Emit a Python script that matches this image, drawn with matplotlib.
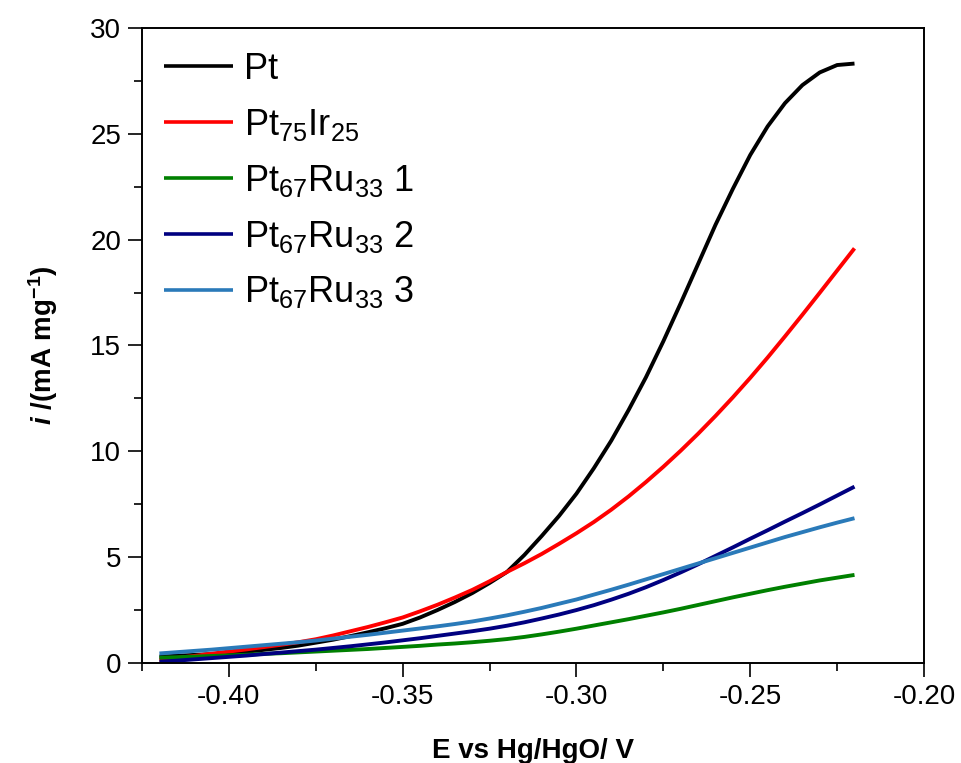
import matplotlib
matplotlib.use("Agg")
import matplotlib.pyplot as plt
from matplotlib.ticker import MultipleLocator, FormatStrFormatter

plt.rcParams['font.family'] = ['Liberation Sans', 'DejaVu Sans']
plt.rcParams['mathtext.fontset'] = 'custom'
plt.rcParams['mathtext.rm'] = 'Liberation Sans'
plt.rcParams['mathtext.it'] = 'Liberation Sans:italic:bold'
plt.rcParams['mathtext.bf'] = 'Liberation Sans:bold'
plt.rcParams['axes.unicode_minus'] = False

# Potential (V vs Hg/HgO)
potential = [-0.420, -0.415, -0.410, -0.405, -0.400, -0.395, -0.390, -0.385, -0.380,
             -0.375, -0.370, -0.365, -0.360, -0.355, -0.350, -0.345, -0.340, -0.335,
             -0.330, -0.325, -0.320, -0.315, -0.310, -0.305, -0.300, -0.295, -0.290,
             -0.285, -0.280, -0.275, -0.270, -0.265, -0.260, -0.255, -0.250, -0.245,
             -0.240, -0.235, -0.230, -0.225, -0.220]

# Mass activity (mA mg^-1)
pt = [0.30, 0.34, 0.38, 0.42, 0.46, 0.53, 0.62, 0.71, 0.82,
      0.96, 1.10, 1.27, 1.45, 1.64, 1.85, 2.15, 2.50, 2.88,
      3.30, 3.78, 4.30, 5.10, 6.00, 6.95, 8.00, 9.20, 10.50,
      11.95, 13.50, 15.20, 17.00, 18.85, 20.70, 22.40, 24.00, 25.35,
      26.45, 27.30, 27.90, 28.25, 28.32]
pt75ir25 = [0.14, 0.24, 0.33, 0.44, 0.54, 0.64, 0.75, 0.86, 0.98,
            1.12, 1.30, 1.50, 1.70, 1.92, 2.15, 2.44, 2.75, 3.09,
            3.45, 3.86, 4.30, 4.71, 5.15, 5.63, 6.13, 6.66, 7.24,
            7.87, 8.55, 9.27, 10.03, 10.83, 11.67, 12.55, 13.47, 14.43,
            15.43, 16.45, 17.49, 18.54, 19.59]
ptru_1 = [0.25, 0.27, 0.30, 0.33, 0.36, 0.39, 0.43, 0.46, 0.50,
          0.54, 0.58, 0.62, 0.66, 0.71, 0.76, 0.81, 0.87, 0.92,
          0.98, 1.05, 1.13, 1.23, 1.35, 1.48, 1.62, 1.77, 1.92,
          2.07, 2.23, 2.39, 2.56, 2.74, 2.92, 3.10, 3.27, 3.44,
          3.60, 3.75, 3.90, 4.03, 4.16]
ptru_2 = [0.06, 0.11, 0.17, 0.23, 0.29, 0.35, 0.42, 0.49, 0.56,
          0.63, 0.71, 0.79, 0.88, 0.97, 1.07, 1.17, 1.28, 1.39,
          1.50, 1.62, 1.76, 1.92, 2.10, 2.29, 2.50, 2.73, 2.99,
          3.27, 3.58, 3.92, 4.28, 4.66, 5.06, 5.46, 5.87, 6.27,
          6.68, 7.08, 7.49, 7.91, 8.33]
ptru_3 = [0.45, 0.51, 0.57, 0.63, 0.70, 0.77, 0.84, 0.91, 0.98,
          1.06, 1.15, 1.24, 1.33, 1.43, 1.53, 1.63, 1.73, 1.84,
          1.96, 2.10, 2.25, 2.42, 2.60, 2.80, 3.00, 3.23, 3.46,
          3.70, 3.95, 4.20, 4.45, 4.70, 4.95, 5.20, 5.45, 5.70,
          5.95, 6.18, 6.41, 6.63, 6.84]

labels = ['Pt', r'Pt$_{75}$Ir$_{25}$', r'Pt$_{67}$Ru$_{33}$ 1',
          r'Pt$_{67}$Ru$_{33}$ 2', r'Pt$_{67}$Ru$_{33}$ 3']
series = [pt, pt75ir25, ptru_1, ptru_2, ptru_3]
colors = ['#000000', '#ff0000', '#008000', '#000080', '#2a7ab9']

fig = plt.figure(figsize=(9.61, 7.63), dpi=100)
ax = fig.add_axes([0.1478, 0.1311, 0.8137, 0.8322])

for y, c, lab in zip(series, colors, labels):
    ax.plot(potential, y, color=c, lw=2.8, label=lab, solid_capstyle='butt')

ax.set_xlim(-0.425, -0.20)
ax.set_ylim(0, 30)
ax.xaxis.set_major_locator(MultipleLocator(0.05))
ax.xaxis.set_minor_locator(MultipleLocator(0.025))
ax.yaxis.set_major_locator(MultipleLocator(5))
ax.yaxis.set_minor_locator(MultipleLocator(2.5))
ax.xaxis.set_major_formatter(FormatStrFormatter('%.2f'))

ax.tick_params(which='major', direction='out', length=10, width=1.2,
               labelsize=20, pad=5)
ax.tick_params(which='minor', direction='out', length=6, width=1.2)
for sp in ax.spines.values():
    sp.set_linewidth(1.4)

ax.set_xlabel('E vs Hg/HgO/ V', fontsize=20, fontweight='bold', labelpad=20)
ax.set_ylabel(r'$\mathit{i}$ /(mA mg$^{\mathbf{-1}}$)', fontsize=20,
              fontweight='bold', labelpad=22)

leg = ax.legend(loc='upper left', frameon=False, fontsize=26,
                handlelength=1.9, handletextpad=0.3, labelspacing=0.55,
                borderaxespad=0.0, bbox_to_anchor=(0.01, 0.985))
for h in leg.get_lines():
    h.set_linewidth(2.6)

fig.savefig('out.png', dpi=100)
